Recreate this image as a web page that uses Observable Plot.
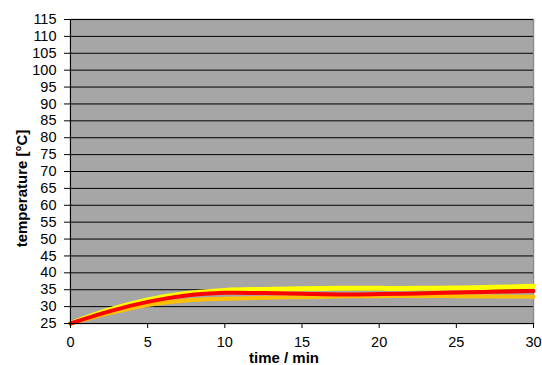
<!DOCTYPE html>
<html><head><meta charset="utf-8">
<script src="https://cdn.jsdelivr.net/npm/d3@7"></script>
<script src="https://cdn.jsdelivr.net/npm/@observablehq/plot@0.6"></script>
<style>body{margin:0;background:#fff}#c svg{display:block}</style>
</head><body><div id="c"></div>
<script>
const time   = [0, 2.5, 5, 7.5, 10, 12.5, 15, 17.5, 20, 22.5, 25, 27.5, 30];
const yellow = [25, 29.0, 32.0, 33.9, 34.8, 35.1, 35.3, 35.4, 35.4, 35.4, 35.5, 35.7, 36.0];
const red    = [25, 28.6, 31.4, 33.3, 34.1, 34.0, 33.8, 33.6, 33.7, 33.9, 34.2, 34.4, 34.6];
const orange = [25, 28.0, 30.5, 31.8, 32.3, 32.6, 32.8, 33.0, 33.1, 33.1, 33.1, 33.0, 32.9];
const yTicks = d3.range(25, 116, 5);
const xTicks = [0, 5, 10, 15, 20, 25, 30];

const series = [
  {name: "yellow", values: yellow, color: "#FFFF00", w: 5},
  {name: "orange", values: orange, color: "#FFC000", w: 4},
  {name: "red", values: red, color: "#FF0000", w: 4}
];
const rows = s => time.map((t, i) => ({t, v: s.values[i]}));

const chart = Plot.plot({
  width: 542, height: 365,
  marginLeft: 70, marginRight: 9, marginTop: 19, marginBottom: 42,
  style: {fontFamily: "Arial, 'Liberation Sans', sans-serif", color: "#000", background: "#fff"},
  x: {domain: [0, 30]},
  y: {domain: [25, 115]},
  marks: [
    Plot.frame({fill: "#A6A6A6", stroke: "#8C8C8C", strokeWidth: 1.5}),
    Plot.gridY(yTicks, {stroke: "#000", strokeOpacity: 1, strokeWidth: 1}),
    ...series.map(s => Plot.line(rows(s), {x: "t", y: "v", stroke: s.color, strokeWidth: s.w, curve: "catmull-rom"})),
    Plot.ruleX([0], {stroke: "#000", strokeWidth: 1}),
    Plot.ruleY([25], {stroke: "#000", strokeWidth: 1}),
    Plot.axisY(yTicks, {tickSize: 6, tickPadding: 8, fontSize: 14.5, label: null, stroke: "#000"}),
    Plot.axisX(xTicks, {tickSize: 5, tickPadding: 8, fontSize: 14.5, label: null, stroke: "#000"}),
    Plot.text(["temperature [°C]"], {frameAnchor: "left", textAnchor: "middle", lineAnchor: "middle", rotate: -90, dx: -48, dy: 17, fontSize: 15, fontWeight: "bold", fill: "#000"}),
    Plot.text(["time / min"], {frameAnchor: "bottom", textAnchor: "middle", lineAnchor: "bottom", dx: -18, dy: 39, fontSize: 15, fontWeight: "bold", fill: "#000"})
  ]
});
document.getElementById("c").append(chart);
</script>
</body></html>
